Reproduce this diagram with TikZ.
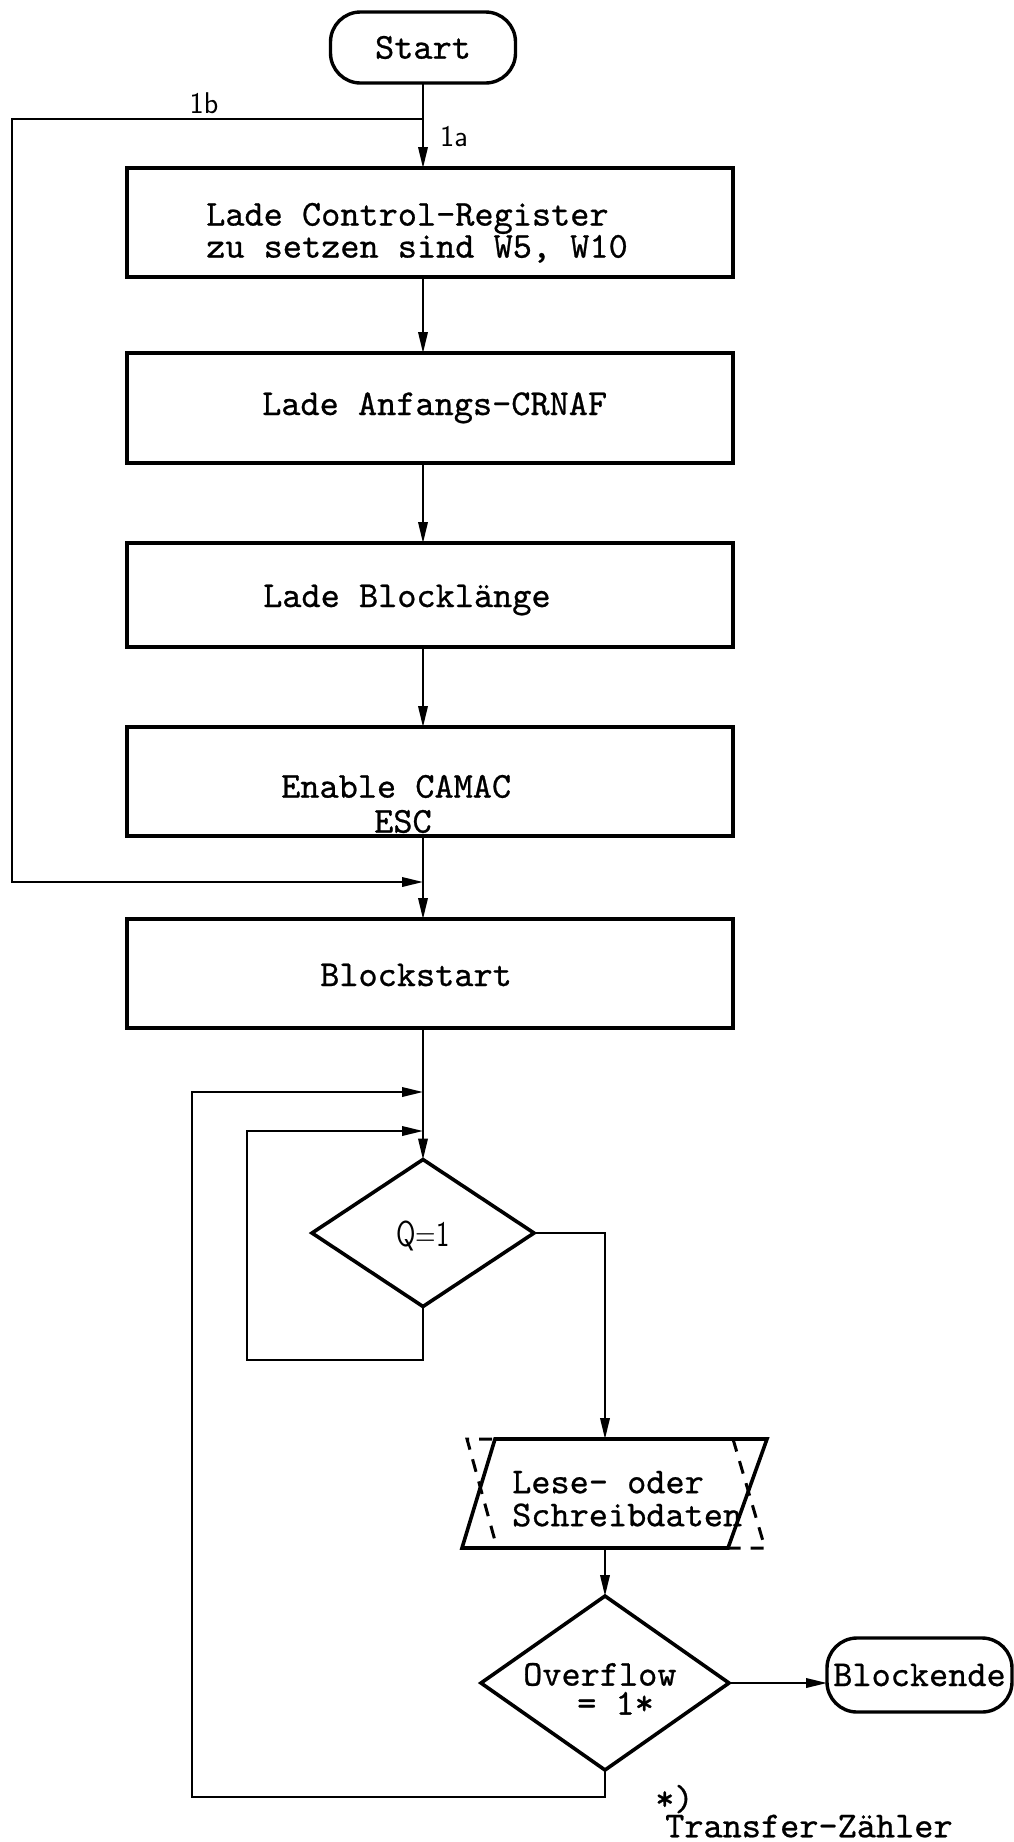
\documentclass[tikz,border=0pt]{standalone}
\usepackage{fontspec}
\setmonofont{lmmono10-regular.otf}[FakeBold=0.7]
\usetikzlibrary{shapes.geometric,arrows.meta,calc}
\newcommand\tightlines{\lineskiplimit -100pt\relax}
\begin{document}
\begin{tikzpicture}[x=1pt,y=-1pt,
  box/.style={draw,line width=3.6pt,minimum width=606pt,inner sep=0pt,outer sep=0pt},
  term/.style={draw,line width=3.4pt,rounded corners=30pt,inner sep=0pt,outer sep=0pt,
    font=\fontsize{36.5}{38}\ttfamily},
  decide/.style={draw,diamond,line width=3.6pt,inner sep=0pt,outer sep=0pt},
  flow/.style={line width=2pt,-{Triangle[length=21pt,width=9.5pt]}},
  tt/.style={font=\fontsize{36.5}{38}\ttfamily,inner sep=0pt,anchor=base west},
  ttblock/.style={font=\fontsize{36.5}{#1}\ttfamily\tightlines,
    inner sep=0pt,align=left,anchor=north west},
  lab/.style={font=\fontsize{30}{32}\sffamily,inner sep=0pt,anchor=base},
]
\useasboundingbox (0,0) rectangle (1014,1842);
\fill[white] (0,0) rectangle (1014,1842);

% main column
\coordinate (ax) at (423,0);

% terminal and process boxes
\node[term,minimum width=185pt,minimum height=71pt] (start) at (423,47.5) {Start};

\node[box,minimum height=109pt] (b1) at (430,222.5) {};
\node[ttblock=32pt] (b1a) at (206,202.7) {Lade Control-Register\\zu setzen sind W5, W10};

\node[box,minimum height=110pt] (b2) at (430,408) {};
\node[tt] (b2a) at (262,415) {Lade Anfangs-CRNAF};

\node[box,minimum height=104pt] (b3) at (430,595) {};
\node[tt] (b3a) at (263,607) {Lade Blocklänge};

\node[box,minimum height=109pt] (b4) at (430,781.5) {};
\node[ttblock=35pt] (b4a) at (281,774.7) {Enable CAMAC\\\hspace*{93pt}ESC};

\node[box,minimum height=109pt] (b5) at (430,973.5) {};
\node[tt] (b5a) at (320,986) {Blockstart};

% Q decision
\node[decide,minimum width=222pt,minimum height=147pt] (q) at (423,1233) {};
\node[lab,font=\fontsize{36}{38}\sffamily] (qt) at (423,1246) {\scalebox{0.78}[1]{Q=1}};

% read / write data
\coordinate (pt) at (605,1439);
\coordinate (pb) at (605,1548);
\draw[line width=3.6pt] (495,1439) -- (767,1439) -- (728,1548) -- (462,1548) -- cycle;
\draw[line width=3pt,dash pattern=on 13pt off 10pt] (492,1439) -- (467,1439) -- (497,1548);
\draw[line width=3pt,dash pattern=on 13pt off 10pt] (733,1439) -- (765,1548) -- (728,1548);
\node[ttblock=33pt] (pa) at (512,1470.7) {Lese- oder\\Schreibdaten};

% overflow decision
\node[decide,minimum width=248pt,minimum height=174pt] (ov) at (605,1683) {};
\node[ttblock=29pt] (ova) at (523,1662.7) {Overflow\\\hspace*{54pt}= 1*};

\node[term,minimum width=185pt,minimum height=74pt] (blockend) at (919.5,1675) {Blockende};

% footnote
\node[ttblock=27pt] (fn) at (655,1784.7) {*)\\\hspace*{10pt}Transfer-Zähler};

% corner points of the loops
\coordinate (j1) at (423,119);
\coordinate (c1) at (12,119);
\coordinate (c2) at (12,882);
\coordinate (m1) at (423,882);
\coordinate (i1) at (247,1360);
\coordinate (i2) at (247,1131);
\coordinate (m2) at (423,1131);
\coordinate (o1) at (192,1797);
\coordinate (o2) at (192,1092);
\coordinate (m3) at (423,1092);
\coordinate (r1) at (605,1233);

% connectors
\draw[flow] (start.south) -- (b1.north -| ax);
\draw[flow] (j1) -- (c1) -- (c2) -- (m1);
\node[lab] (l1b) at (204,113) {1b};
\node[lab] (l1a) at (454,146) {1a};
\draw[flow] (b1.south -| ax) -- (b2.north -| ax);
\draw[flow] (b2.south -| ax) -- (b3.north -| ax);
\draw[flow] (b3.south -| ax) -- (b4.north -| ax);
\draw[flow] (b4.south -| ax) -- (b5.north -| ax);
\draw[flow] (b5.south -| ax) -- (q.north);
\draw[flow] (q.south) -- (q.south |- i1) -- (i1) -- (i2) -- (m2);
\draw[flow] (q.east) -- (r1) -- (pt);
\draw[flow] (pb) -- (ov.north);
\draw[flow] (ov.east) -- (ov.east -| blockend.west);
\draw[flow] (ov.south) -- (ov.south |- o1) -- (o1) -- (o2) -- (m3);
\end{tikzpicture}
\end{document}
